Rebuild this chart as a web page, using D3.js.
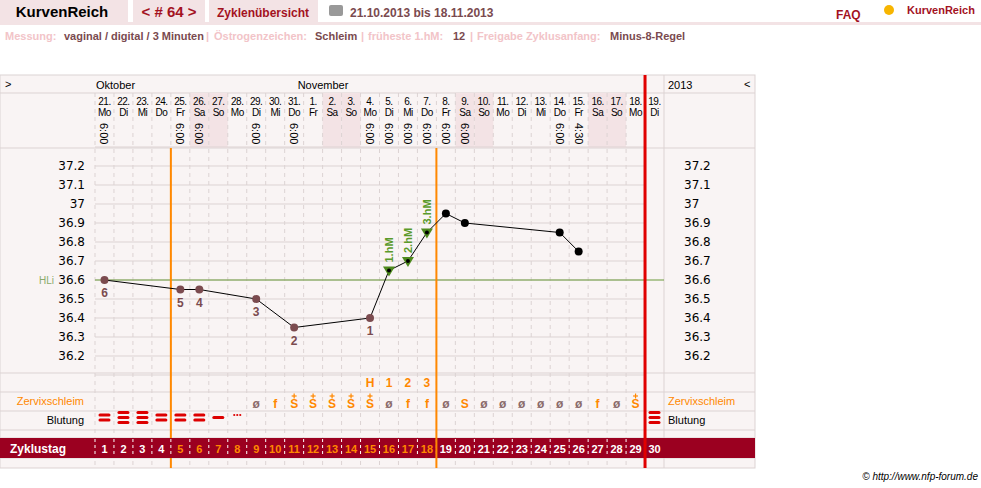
<!DOCTYPE html>
<html><head><meta charset="utf-8">
<script src="https://cdn.jsdelivr.net/npm/d3@7"></script>
<style>body{margin:0;background:#fff;font-family:"Liberation Sans",Arial,sans-serif}</style>
</head><body><svg width="981" height="488"></svg>
<script>
const days = d3.range(1, 31)
const dates = ['21.','22.','23.','24.','25.','26.','27.','28.','29.','30.','31.','1.','2.','3.','4.','5.','6.','7.','8.','9.','10.','11.','12.','13.','14.','15.','16.','17.','18.','19.']
const weekdays = ['Mo','Di','Mi','Do','Fr','Sa','So','Mo','Di','Mi','Do','Fr','Sa','So','Mo','Di','Mi','Do','Fr','Sa','So','Mo','Di','Mi','Do','Fr','Sa','So','Mo','Di']
const times = {1:'6:00',5:'6:00',6:'6:00',9:'6:00',11:'6:00',15:'6:00',16:'6:00',17:'6:00',18:'6:00',19:'6:00',20:'6:00',25:'6:00',26:'4:30'}
const temps = [
  {day:1,t:36.6,k:'low',n:'6'},{day:5,t:36.55,k:'low',n:'5'},{day:6,t:36.55,k:'low',n:'4'},
  {day:9,t:36.5,k:'low',n:'3'},{day:11,t:36.35,k:'low',n:'2'},{day:15,t:36.4,k:'low',n:'1'},
  {day:16,t:36.65,k:'hm',n:'1.hM'},{day:17,t:36.7,k:'hm',n:'2.hM'},{day:18,t:36.85,k:'hm',n:'3.hM'},
  {day:19,t:36.95,k:'hi'},{day:20,t:36.9,k:'hi'},{day:25,t:36.85,k:'hi'},{day:26,t:36.75,k:'hi'}]
const yTicks = [37.2,37.1,37,36.9,36.8,36.7,36.6,36.5,36.4,36.3,36.2]
const coverLine = 36.6
const mucus = {9:'ø',10:'f',11:'S+',12:'S+',13:'S+',14:'S+',15:'S+',16:'ø',17:'f',18:'f',19:'ø',20:'S',21:'ø',22:'ø',23:'ø',24:'ø',25:'ø',26:'ø',27:'f',28:'ø',29:'S+'}
const peak = {15:'H',16:'1',17:'2',18:'3'}
const bleeding = {1:2,2:3,3:3,4:2,5:2,6:2,7:1,8:'dots',30:3}
const fertileStart = 5, fertileEnd = 18, cycleEnd = 30

const svg = d3.select('svg')
const x = d3.scaleBand().domain(days).range([95, 664])
const y = d3.scaleLinear().domain([36.2, 37.2]).range([356, 166])
const cx = d => x(d) + x.bandwidth() / 2
const pinkBg = '#f3e3e5', panel = '#f9f4f4', grid = '#dcd3d3'

// header
const hdr = [[0,128,'KurvenReich','#000',15,'bold',62],[133,72,'< # 64 >','#a3121f',15,'bold',169],[209,109,'Zyklenübersicht','#a3121f',12,'bold',263]]
hdr.forEach(h => {
  svg.append('rect').attr('x',h[0]).attr('y',0).attr('width',h[1]).attr('height',22).attr('fill',pinkBg)
  svg.append('text').attr('x',h[6]).attr('y',17).attr('text-anchor','middle').attr('fill',h[3]).attr('font-size',h[4]).attr('font-weight',h[5]).text(h[2])
})
svg.append('rect').attr('x',0).attr('y',22).attr('width',981).attr('height',3).attr('fill',pinkBg)
svg.append('rect').attr('x',329).attr('y',5).attr('width',14).attr('height',11).attr('fill','#999').attr('rx',2)
svg.append('text').attr('x',350).attr('y',17).attr('fill','#7a4a4f').attr('font-size',12).attr('font-weight','bold').text('21.10.2013 bis 18.11.2013')
svg.append('text').attr('x',836).attr('y',19).attr('fill','#a3121f').attr('font-size',12).attr('font-weight','bold').text('FAQ')
svg.append('text').attr('x',907).attr('y',14).attr('fill','#a3121f').attr('font-size',11).attr('font-weight','bold').text('KurvenReich')
svg.append('circle').attr('cx',889).attr('cy',10).attr('r',5).attr('fill','#f7b500')
const info = [['Messung:','#f2c4c8',5],['vaginal / digital / 3 Minuten','#7a4a4f',64],['|','#f2c4c8',206],['Östrogenzeichen:','#f2c4c8',214],['Schleim','#7a4a4f',315],['|','#f2c4c8',361],['früheste 1.hM:','#f2c4c8',368],['12','#7a4a4f',453],['|','#f2c4c8',470],['Freigabe Zyklusanfang:','#f2c4c8',477],['Minus-8-Regel','#7a4a4f',610]]
info.forEach(i => svg.append('text').attr('x',i[2]).attr('y',40).attr('fill',i[1]).attr('font-size',11).attr('font-weight','bold').text(i[0]))

// panel
svg.append('rect').attr('x',0).attr('y',75).attr('width',755).attr('height',393).attr('fill',panel).attr('stroke',grid)
const rowLines = [93,148,373,392,411,430,438,458]
rowLines.forEach(v => svg.append('line').attr('x1',0).attr('x2',755).attr('y1',v).attr('y2',v).attr('stroke',grid))
svg.append('line').attr('x1',664).attr('x2',664).attr('y1',75).attr('y2',468).attr('stroke',grid)
days.filter((d,i) => weekdays[i]==='Sa'||weekdays[i]==='So').forEach(d =>
  svg.append('rect').attr('x',x(d)).attr('y',93).attr('width',x.bandwidth()).attr('height',55).attr('fill',pinkBg))
days.forEach(d => svg.append('line').attr('x1',x(d)).attr('x2',x(d)).attr('y1',93).attr('y2',468).attr('stroke',grid).attr('stroke-dasharray','4,4'))
d3.range(0,13).map(i => 36.1 + i*0.1).forEach(v =>
  svg.append('line').attr('x1',95).attr('x2',645).attr('y1',y(v)).attr('y2',y(v)).attr('stroke',grid))
svg.append('line').attr('x1',95).attr('x2',664).attr('y1',y(coverLine)).attr('y2',y(coverLine)).attr('stroke','#6a9a3a').attr('stroke-width',1)
svg.append('text').attr('x',39).attr('y',y(coverLine)+4).attr('font-size',10).attr('fill','#8aaa6a').text('HLi')
const fmt = v => d3.format('')(+v.toFixed(1))
const styleAxis = g => { g.select('.domain').remove(); g.selectAll('text').attr('font-size',12).attr('font-family','DejaVu Sans').attr('fill','#000') }
svg.append('g').attr('transform','translate(88,0)').call(d3.axisLeft(y).tickValues(yTicks).tickFormat(fmt).tickSize(0)).call(styleAxis)
svg.append('g').attr('transform','translate(681,0)').call(d3.axisRight(y).tickValues(yTicks).tickFormat(fmt).tickSize(0)).call(styleAxis)

svg.append('text').attr('x',5).attr('y',88).attr('font-size',11).text('>')
svg.append('text').attr('x',96).attr('y',89).attr('font-size',11).text('Oktober')
svg.append('text').attr('x',x(12)-6).attr('y',89).attr('font-size',11).text('November')
svg.append('text').attr('x',668).attr('y',89).attr('font-size',11).text('2013')
svg.append('text').attr('x',744).attr('y',88).attr('font-size',11).text('<')
days.forEach((d,i) => {
  svg.append('text').attr('x',cx(d)).attr('y',105).attr('text-anchor','middle').attr('font-size',10).attr('letter-spacing',-0.5).text(dates[i])
  svg.append('text').attr('x',cx(d)).attr('y',116).attr('text-anchor','middle').attr('font-size',10).attr('letter-spacing',-0.5).text(weekdays[i])
  if (times[d]) svg.append('text').attr('transform',`translate(${cx(d)-4},123) rotate(90)`).attr('font-size',11).text(times[d])
})

;[fertileStart, fertileEnd+1].forEach(d => svg.append('line').attr('x1',x(d)).attr('x2',x(d)).attr('y1',148).attr('y2',468).attr('stroke','#ff8800').attr('stroke-width',2))
svg.append('line').attr('x1',x(cycleEnd)).attr('x2',x(cycleEnd)).attr('y1',75).attr('y2',468).attr('stroke','#e00000').attr('stroke-width',3)

svg.append('path').datum(temps).attr('fill','none').attr('stroke','#000')
  .attr('d', d3.line().x(d => cx(d.day)).y(d => y(d.t)))
temps.forEach(d => {
  const px = cx(d.day), py = y(d.t)
  if (d.k==='hm') {
    svg.append('path').attr('d',`M${px-6},${py-4}L${px+6},${py-4}L${px},${py+6}Z`).attr('fill','#4e8a1e')
    svg.append('circle').attr('cx',px).attr('cy',py).attr('r',2).attr('fill','#000')
    svg.append('text').attr('transform',`translate(${px+4},${py-8}) rotate(-90)`).attr('font-size',11).attr('font-weight','bold').attr('fill','#5a9a2a').text(d.n)
  } else {
    svg.append('circle').attr('cx',px).attr('cy',py).attr('r',4).attr('fill',d.k==='low'?'#7b4b4f':'#000')
    if (d.n) svg.append('text').attr('x',px).attr('y',py+17).attr('text-anchor','middle').attr('font-size',12).attr('font-weight','bold').attr('fill','#7b4b4f').text(d.n)
  }
})

svg.append('text').attr('x',84).attr('y',405).attr('text-anchor','end').attr('font-size',11).attr('fill','#ff8800').text('Zervixschleim')
svg.append('text').attr('x',668).attr('y',405).attr('font-size',11).attr('fill','#ff8800').text('Zervixschleim')
svg.append('text').attr('x',84).attr('y',424).attr('text-anchor','end').attr('font-size',11).text('Blutung')
svg.append('text').attr('x',668).attr('y',424).attr('font-size',11).text('Blutung')
Object.entries(peak).forEach(([d,t]) => svg.append('text').attr('x',cx(+d)).attr('y',387).attr('text-anchor','middle').attr('font-size',12).attr('font-weight','bold').attr('fill','#ff8800').text(t))
Object.entries(mucus).forEach(([d,t]) => {
  const col = t==='ø' ? '#8a6a6a' : '#ff8800'
  svg.append('text').attr('x',cx(+d)).attr('y',408).attr('text-anchor','middle').attr('font-size',12).attr('font-weight','bold').attr('fill',col).text(t[0])
  if (t.length>1) {
    svg.append('line').attr('x1',cx(+d)-2.5).attr('x2',cx(+d)+2.5).attr('y1',396).attr('y2',396).attr('stroke',col).attr('stroke-width',1.2)
    svg.append('line').attr('x1',cx(+d)).attr('x2',cx(+d)).attr('y1',393.5).attr('y2',398.5).attr('stroke',col).attr('stroke-width',1.2)
  }
})
Object.entries(bleeding).forEach(([d,n]) => {
  const px = cx(+d)
  if (n==='dots') { d3.range(3).forEach(i => svg.append('circle').attr('cx',px-3+i*3).attr('cy',415).attr('r',1.1).attr('fill','#d00')); return }
  d3.range(n).forEach(i => svg.append('rect').attr('x',px-6).attr('y',420-n*2.5+i*5-1.5).attr('width',12).attr('height',3).attr('rx',1.5).attr('fill','#d00'))
})

svg.append('rect').attr('x',0).attr('y',438).attr('width',755).attr('height',20).attr('fill','#9b0020')
svg.append('text').attr('x',10).attr('y',453).attr('font-size',12).attr('font-weight','bold').attr('fill','#fff').text('Zyklustag')
days.forEach(d => {
  svg.append('line').attr('x1',x(d)).attr('x2',x(d)).attr('y1',439).attr('y2',457).attr('stroke','#fff').attr('stroke-dasharray','3,3')
  svg.append('text').attr('x',cx(d)).attr('y',453).attr('text-anchor','middle').attr('font-size',11).attr('font-weight','bold')
    .attr('fill', d>=fertileStart && d<=fertileEnd ? '#ff8800' : '#fff').text(d)
})
svg.append('line').attr('x1',x(fertileEnd+1)).attr('x2',x(fertileEnd+1)).attr('y1',438).attr('y2',458).attr('stroke','#ff8800').attr('stroke-width',2)
svg.append('line').attr('x1',x(cycleEnd)).attr('x2',x(cycleEnd)).attr('y1',438).attr('y2',458).attr('stroke','#e00000').attr('stroke-width',3)
svg.append('text').attr('x',978).attr('y',480).attr('text-anchor','end').attr('font-size',10).attr('font-style','italic').text('© http://www.nfp-forum.de')
</script></body></html>
